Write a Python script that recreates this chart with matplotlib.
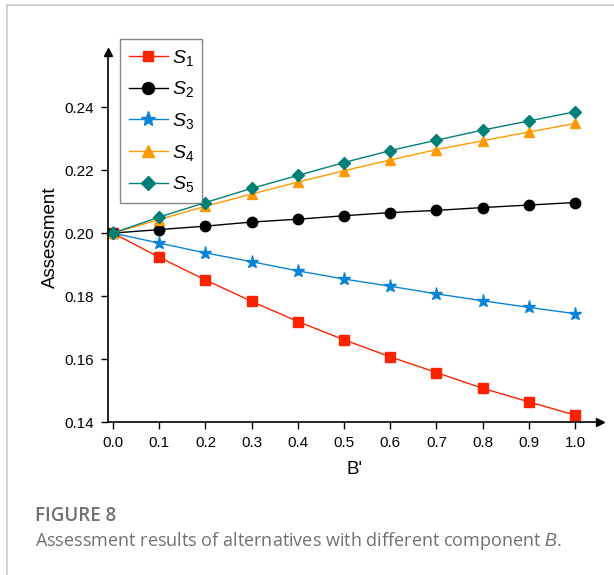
import matplotlib
matplotlib.use("Agg")
import matplotlib.pyplot as plt
from matplotlib.patches import Rectangle

x = [0.0, 0.1, 0.2, 0.3, 0.4, 0.5, 0.6, 0.7, 0.8, 0.9, 1.0]
s1 = [0.2000, 0.1923, 0.1851, 0.1783, 0.1719, 0.1661, 0.1607, 0.1557, 0.1507, 0.1464, 0.1422]
s2 = [0.2000, 0.2011, 0.2022, 0.2035, 0.2044, 0.2055, 0.2065, 0.2072, 0.2081, 0.2089, 0.2097]
s3 = [0.2000, 0.1968, 0.1937, 0.1909, 0.1880, 0.1854, 0.1831, 0.1807, 0.1785, 0.1764, 0.1744]
s4 = [0.2000, 0.2043, 0.2085, 0.2124, 0.2162, 0.2198, 0.2232, 0.2265, 0.2293, 0.2321, 0.2348]
s5 = [0.2000, 0.2051, 0.2097, 0.2142, 0.2183, 0.2224, 0.2262, 0.2295, 0.2327, 0.2356, 0.2385]
labels = [r"$S_1$", r"$S_2$", r"$S_3$", r"$S_4$", r"$S_5$"]
xticks = [0.0, 0.1, 0.2, 0.3, 0.4, 0.5, 0.6, 0.7, 0.8, 0.9, 1.0]
yticks = [0.14, 0.16, 0.18, 0.20, 0.22, 0.24]

plt.rcParams['font.family'] = ['Liberation Sans', 'DejaVu Sans']
plt.rcParams['mathtext.fontset'] = 'custom'
plt.rcParams['mathtext.it'] = 'Liberation Sans:italic'
plt.rcParams['mathtext.rm'] = 'Liberation Sans'

fig = plt.figure(figsize=(6.14, 5.75), dpi=100)
# frame border
fig.patches.append(Rectangle((7/614, -0.05), 1.2, 1 - 5/575 + 0.05, transform=fig.transFigure,
                             fill=False, edgecolor='#c8c8c8', linewidth=1.2))

ax = fig.add_axes([108/614, 1 - 422/575, (600 - 108)/614, (422 - 52)/575])

series = [s1, s2, s3, s4, s5]
colors = ['#FF2200', '#000000', '#0A84D6', '#FF9900', '#008077']
markers = ['s', 'o', '*', '^', 'D']
msizes = [6.5, 7.5, 9.5, 7.5, 6.5]
for ys, c, m, ms, lab in zip(series, colors, markers, msizes, labels):
    ax.plot(x, ys, color=c, marker=m, markersize=ms, linewidth=1.0, label=lab,
            markeredgecolor=c, clip_on=False)

ax.set_xlim(-0.011, 1.054)
ax.set_ylim(0.14, 0.2575)
ax.spines['top'].set_visible(False)
ax.spines['right'].set_visible(False)
ax.set_xticks(xticks)
ax.set_xticklabels([f"{v:.1f}" for v in xticks])
ax.set_yticks(yticks)
ax.set_yticklabels([f"{v:.2f}" for v in yticks])
ax.tick_params(direction='out', length=5, width=1, labelsize=11, pad=5)
for sp in ['left', 'bottom']:
    ax.spines[sp].set_linewidth(1.2)

# arrow heads
ax.plot(1, 0, '>', color='k', markersize=6, transform=ax.transAxes, clip_on=False)
ax.plot(0, 1, '^', color='k', markersize=6, transform=ax.transAxes, clip_on=False)

ax.set_xlabel("B'", fontsize=13.5, labelpad=8)
ax.set_ylabel("Assessment", fontsize=13.5, labelpad=4)

leg = ax.legend(loc='upper left', bbox_to_anchor=((120 - 108) / 492, 1.035), fontsize=14,
                frameon=True, fancybox=False, edgecolor='#666666', handlelength=2.0,
                borderpad=0.45, labelspacing=0.6, handletextpad=0.2, borderaxespad=0,
                markerscale=1.15)
leg.get_frame().set_linewidth(1.0)

fig.text(35/614, 1 - 516/575, "FIGURE 8", fontsize=13.5, color='#707070',
         family='Open Sans', va='center', ha='left', fontweight='semibold')
fig.text(35/614, 1 - 541/575, "Assessment results of alternatives with different component $\\it{B}$.",
         fontsize=13, color='#707070', family='Open Sans', va='center', ha='left')

fig.savefig("out.png", dpi=100)
